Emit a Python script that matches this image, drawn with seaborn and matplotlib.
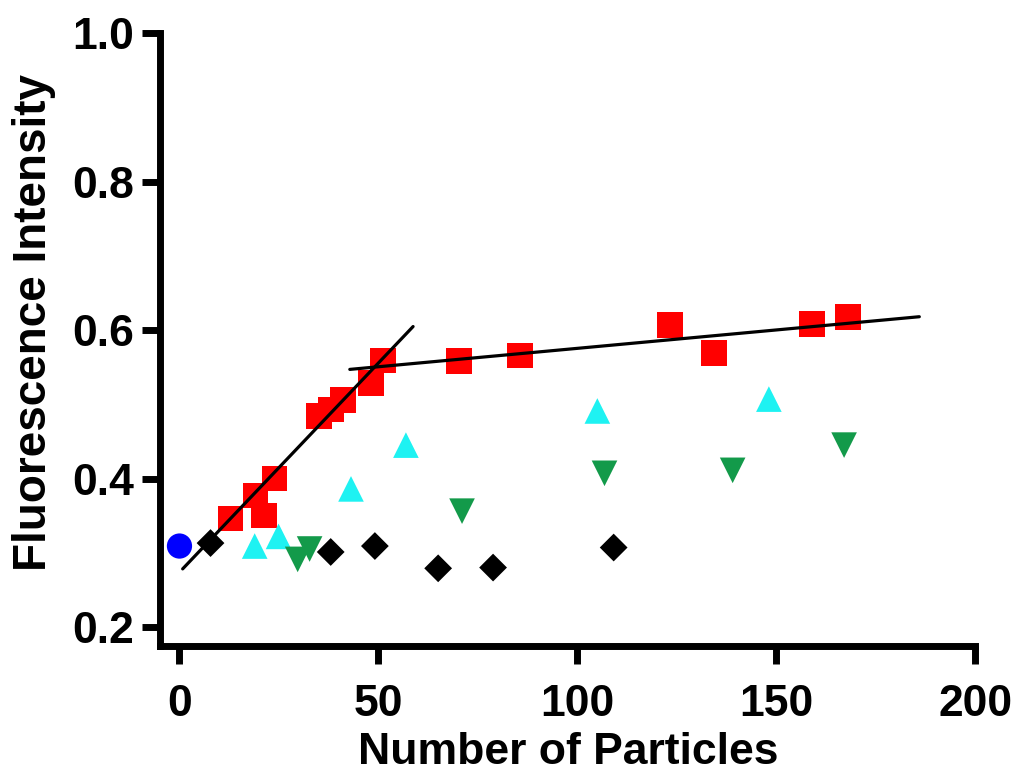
import numpy as np
import pandas as pd
import matplotlib
matplotlib.use("Agg")
import matplotlib.pyplot as plt
import seaborn as sns

# values
red_x = [12.8, 19.1, 21.2, 23.9, 35.0, 38.0, 41.1, 48.1, 51.1, 70.3, 85.6, 123.2, 134.3, 158.9, 168.0]
red_y = [0.346, 0.377, 0.350, 0.400, 0.484, 0.493, 0.506, 0.529, 0.559, 0.558, 0.566, 0.607, 0.569, 0.608, 0.618]

cyan_x = [18.9, 24.9, 43.1, 56.9, 105.0, 148.1]
cyan_y = [0.309, 0.322, 0.386, 0.445, 0.491, 0.507]

green_x = [29.7, 32.7, 71.0, 106.8, 139.0, 167.0]
green_y = [0.291, 0.305, 0.356, 0.407, 0.411, 0.445]

black_x = [7.8, 38.0, 49.1, 65.0, 78.8, 109.1]
black_y = [0.313, 0.301, 0.309, 0.279, 0.280, 0.307]

blue_x = [0.0]
blue_y = [0.309]

# linear fits (slope, intercept, x range)
fit1 = (0.00564, 0.2737, 0.8, 58.7)
fit2 = (0.000496, 0.5258, 42.8, 185.9)

x_ticks = [0, 50, 100, 150, 200]
y_ticks = [0.2, 0.4, 0.6, 0.8, 1.0]

sns.set_style("ticks")
plt.rcParams['font.family'] = ['Liberation Sans', 'DejaVu Sans']
plt.rcParams['font.weight'] = 'bold'

fig = plt.figure(figsize=(10.15, 7.73), dpi=100)
ax = fig.add_axes([0.158, 0.164, 0.803, 0.793])

series = [
    (red_x, red_y, 's', '#ff0000', 340),
    (cyan_x, cyan_y, '^', '#1ef2f2', 340),
    (green_x, green_y, 'v', '#139a4a', 340),
    (black_x, black_y, 'D', '#000000', 200),
    (blue_x, blue_y, 'o', '#0000ff', 330),
]
for xs, ys, mk, col, sz in series:
    df = pd.DataFrame({'x': xs, 'y': ys})
    sns.scatterplot(data=df, x='x', y='y', marker=mk, color=col, s=sz,
                    edgecolor='none', linewidth=0, ax=ax, zorder=2)

for slope, icpt, x0, x1 in (fit1, fit2):
    lx = np.array([x0, x1])
    sns.lineplot(x=lx, y=slope * lx + icpt, color='black', linewidth=2.3,
                 ax=ax, zorder=3)

ax.set_xlim(-4.8, 200)
ax.set_ylim(0.174, 1.0)
ax.set_xticks(x_ticks)
ax.set_yticks(y_ticks)
ax.set_xticklabels([str(t) for t in x_ticks])
ax.set_yticklabels([f"{t:.1f}" for t in y_ticks])

for side in ('top', 'right'):
    ax.spines[side].set_visible(False)
for side in ('left', 'bottom'):
    ax.spines[side].set_linewidth(5)
    ax.spines[side].set_color('black')

ax.tick_params(axis='both', direction='out', length=13, width=5,
               labelsize=32, colors='black')
ax.tick_params(axis='x', pad=14)
ax.tick_params(axis='y', pad=6)
for lab in ax.get_xticklabels() + ax.get_yticklabels():
    lab.set_fontweight('bold')

ax.set_xlabel('Number of Particles', fontsize=32, fontweight='bold',
              color='black', labelpad=5)
ax.set_ylabel('Fluorescence Intensity', fontsize=33, fontweight='bold',
              color='black')
ax.yaxis.set_label_coords(-0.128, 0.528)

fig.savefig('out.png', dpi=100)
